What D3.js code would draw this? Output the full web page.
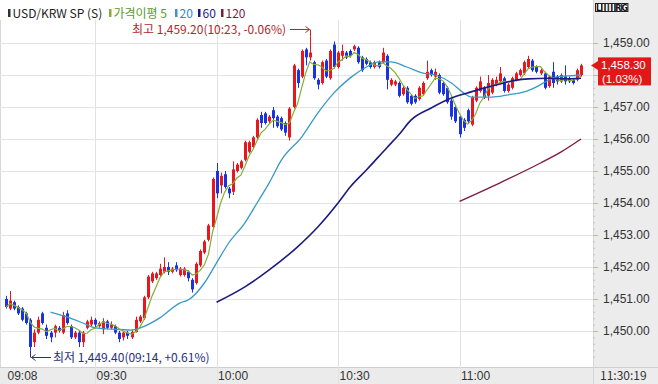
<!DOCTYPE html>
<html><head><meta charset="utf-8">
<script src="https://cdn.jsdelivr.net/npm/d3@7"></script>
<style>
html,body{margin:0;padding:0;background:#fff;}
svg{display:block;font-family:"Noto Sans CJK KR","Noto Sans",sans-serif;}
</style></head><body>
<svg id="c" width="658" height="384"></svg>
<script>
// ---------- DATA ----------
const symbol = "USD/KRW SP (S)";
const startTime = "09:08";           // first 1-minute candle shown
const lastStamp = "11:30:19";
const yTicks = [1450,1451,1452,1453,1454,1455,1456,1457,1458,1459];
const xTickLabels = ["09:08","09:30","10:00","10:30","11:00"];
const gridTimes = ["09:30","10:00","10:30","11:00"];

const open = [1451.0,1450.7,1450.9,1450.75,1450.7,1450.55,1450.35,1449.65,1449.95,1450.55,
1450.1,1449.95,1449.95,1450.1,1449.95,1450.55,1450.15,1449.8,1449.95,1449.65,
1450.1,1450.2,1450.35,1450.15,1450.05,1450.3,1450.1,1450.15,1449.95,1449.8,
1449.95,1449.8,1449.97,1450.3,1450.4,1451.05,1451.55,1451.65,1451.75,1451.85,
1452.0,1451.85,1452.05,1451.75,1451.75,1451.85,1451.6,1451.5,1452.05,1452.45,
1452.85,1453.25,1455.0,1454.55,1454.9,1454.45,1454.35,1455.0,1455.1,1455.35,
1455.6,1455.75,1456.05,1456.75,1456.8,1456.55,1456.9,1456.7,1456.65,1456.5,
1456.05,1457.0,1458.15,1457.95,1458.8,1458.55,1458.4,1457.85,1457.75,1458.45,
1457.9,1458.95,1458.25,1458.6,1458.7,1458.75,1458.8,1458.85,1458.55,1458.5,
1458.4,1458.25,1458.4,1458.4,1458.6,1457.7,1457.7,1457.75,1457.4,1457.6,
1457.35,1457.35,1457.25,1457.4,1457.9,1458.15,1457.95,1458.0,1457.75,1457.6,
1457.2,1457.0,1456.7,1456.6,1456.9,1456.45,1457.2,1457.5,1457.6,1457.35,
1457.45,1457.7,1457.8,1457.9,1457.5,1457.6,1457.85,1458.0,1458.05,1458.25,
1458.45,1458.25,1458.05,1458.05,1457.65,1458.1,1457.95,1457.8,1457.95,1457.9,
1457.85,1457.85,1458.0];
const high = [1451.1,1451.25,1450.95,1450.8,1450.75,1450.6,1450.4,1450.05,1450.45,1450.6,
1450.2,1450.0,1450.2,1450.15,1450.6,1450.65,1450.2,1450.0,1450.0,1450.0,
1450.35,1450.45,1450.4,1450.3,1450.4,1450.35,1450.3,1450.2,1450.0,1450.0,
1450.0,1450.05,1450.45,1450.5,1451.1,1451.75,1451.85,1451.85,1452.1,1452.3,
1452.15,1452.0,1452.15,1452.0,1452.0,1451.9,1451.65,1452.15,1452.55,1452.85,
1453.35,1454.8,1455.25,1454.95,1455.0,1454.5,1455.3,1455.25,1455.35,1455.95,
1455.95,1456.1,1456.65,1456.85,1456.85,1456.75,1457.0,1456.75,1456.7,1456.55,
1457.0,1458.35,1458.2,1458.8,1458.85,1459.2,1458.45,1457.9,1458.45,1458.5,
1458.8,1459.05,1458.75,1458.95,1458.75,1458.8,1458.95,1458.9,1458.6,1458.55,
1458.45,1458.45,1458.45,1458.85,1458.65,1457.9,1457.85,1457.8,1457.65,1457.65,
1457.4,1457.4,1457.65,1457.8,1458.45,1458.2,1458.2,1458.05,1457.8,1457.65,
1457.25,1457.05,1456.75,1456.65,1456.95,1457.35,1457.65,1457.95,1457.65,1458.0,
1457.9,1457.95,1458.25,1457.95,1457.75,1457.95,1458.1,1458.2,1458.45,1458.6,
1458.5,1458.3,1458.2,1458.1,1458.0,1458.4,1458.0,1458.05,1458.3,1457.95,
1457.9,1458.2,1458.35];
const low = [1450.7,1450.65,1450.65,1450.5,1450.3,1450.2,1449.4,1449.5,1449.9,1450.2,
1449.75,1449.65,1449.8,1449.95,1449.9,1450.2,1449.75,1449.75,1449.5,1449.5,
1450.05,1450.15,1450.1,1450.1,1449.9,1450.05,1450.05,1449.9,1449.65,1449.7,
1449.75,1449.75,1449.95,1450.25,1450.35,1451.0,1451.5,1451.6,1451.7,1451.8,
1451.75,1451.8,1451.85,1451.7,1451.7,1451.55,1451.2,1451.45,1452.0,1452.4,
1452.8,1453.2,1454.15,1454.3,1454.45,1454.15,1454.25,1454.95,1455.05,1455.3,
1455.55,1455.7,1456.0,1456.35,1456.45,1456.5,1456.35,1456.35,1456.25,1456.1,
1455.95,1456.95,1457.6,1457.9,1458.3,1458.45,1457.85,1457.55,1457.7,1457.9,
1457.85,1458.2,1458.2,1458.45,1458.5,1458.55,1458.75,1458.35,1458.1,1458.3,
1458.2,1458.2,1458.2,1458.35,1457.55,1457.65,1457.65,1457.3,1457.35,1457.1,
1457.05,1457.1,1457.2,1457.35,1457.85,1457.95,1457.85,1457.4,1457.35,1457.1,
1456.6,1456.5,1456.05,1456.25,1456.5,1456.4,1457.15,1457.45,1457.25,1457.2,
1457.4,1457.65,1457.75,1457.45,1457.45,1457.55,1457.8,1457.95,1458.0,1458.2,
1458.1,1458.05,1458.0,1457.55,1457.6,1457.6,1457.7,1457.75,1457.7,1457.75,
1457.7,1457.8,1457.95];
const close = [1450.75,1450.95,1450.7,1450.55,1450.35,1450.25,1449.5,1449.95,1450.35,1450.25,
1449.85,1449.8,1450.15,1450.0,1450.5,1450.25,1449.8,1449.95,1449.65,1449.95,
1450.3,1450.35,1450.2,1450.25,1450.3,1450.1,1450.2,1449.95,1449.75,1449.95,
1449.85,1449.97,1450.35,1450.45,1451.05,1451.7,1451.8,1451.8,1451.95,1452.0,
1451.85,1451.95,1451.9,1451.95,1451.95,1451.65,1451.3,1452.1,1452.5,1452.8,
1453.3,1454.75,1454.3,1454.85,1454.5,1454.3,1455.05,1455.2,1455.3,1455.9,
1455.9,1456.05,1456.6,1456.5,1456.5,1456.7,1456.65,1456.4,1456.3,1456.2,
1456.95,1458.3,1457.75,1458.75,1458.55,1458.7,1457.9,1457.7,1458.4,1457.95,
1458.75,1458.25,1458.7,1458.75,1458.55,1458.6,1458.9,1458.4,1458.15,1458.35,
1458.25,1458.4,1458.25,1458.7,1457.85,1457.85,1457.8,1457.35,1457.6,1457.15,
1457.1,1457.15,1457.6,1457.75,1458.1,1458.0,1458.1,1457.45,1457.4,1457.15,
1456.7,1456.55,1456.15,1456.35,1456.55,1457.3,1457.6,1457.8,1457.3,1457.75,
1457.85,1457.85,1458.05,1457.5,1457.7,1457.9,1458.05,1458.15,1458.4,1458.5,
1458.15,1458.1,1458.15,1457.6,1457.95,1457.75,1457.8,1458.0,1457.8,1457.8,
1457.75,1458.15,1458.3];

const ma20Times = ["09:19","09:23","09:27","09:30","09:34","09:39","09:41","09:46","09:51","09:53","09:57","10:00","10:03","10:07","10:10","10:13","10:16","10:21","10:25","10:29","10:33","10:37","10:40","10:43","10:47","10:51","10:54","10:58","11:01","11:03","11:08","11:12","11:16","11:19","11:22","11:24","11:27","11:30"];
const ma20Values = [1450.59,1450.44,1450.25,1450.1,1450.06,1450.03,1450.09,1450.41,1450.88,1450.97,1451.5,1452.13,1452.75,1453.38,1454.0,1454.63,1455.34,1456.06,1456.81,1457.44,1457.91,1458.25,1458.41,1458.41,1458.25,1458.06,1458.0,1457.75,1457.44,1457.31,1457.31,1457.38,1457.47,1457.63,1457.84,1457.94,1457.97,1458.0];
const ma60Times = ["10:00","10:07","10:13","10:20","10:25","10:30","10:33","10:37","10:42","10:45","10:48","10:53","10:58","11:02","11:06","11:10","11:14","11:17","11:22","11:26","11:30"];
const ma60Values = [1450.9,1451.38,1451.91,1452.63,1453.25,1454.0,1454.5,1455.03,1455.72,1456.13,1456.59,1456.97,1457.28,1457.44,1457.59,1457.72,1457.84,1457.88,1457.9,1457.88,1457.9];
const ma120Times = ["11:00","11:10","11:20","11:25","11:30"];
const ma120Values = [1454.05,1454.63,1455.25,1455.59,1456.0];

const lastPrice = "1,458.30", lastChange = "(1.03%)";
const highNote = "최고 1,459.20(10:23, -0.06%)";
const lowNote = "최저 1,449.40(09:14, +0.61%)";

// ---------- DRAW ----------
const toMin = s => { const [h,m] = s.split(":").map(Number); return h*60+m; };
const t0 = toMin(startTime);
const candles = open.map((o,i)=>({t:t0+i,o,h:high[i],l:low[i],c:close[i]}));
const ma5 = close.map((c,i)=>({t:t0+i, v:d3.mean(close.slice(Math.max(0,i-4), i+1))}));
const lastClose = close[close.length-1];

const svg = d3.select("#c");
const PR = 593, PB = 367, PT = 20;
const x = d3.scaleLinear().domain([t0, toMin("11:30")]).range([6, 581]);
const y = d3.scaleLinear().domain([1450, 1459]).range([331, 43]);

const UP = "#e8171d", DN = "#1832e4";
const C5 = "#86ad3a", C20 = "#3a98c6", C60 = "#1b1b82", C120 = "#7c1c40";

svg.append("rect").attr("width",658).attr("height",384).attr("fill","#fff");
// right panel & bottom band
svg.append("rect").attr("x",PR).attr("y",0).attr("width",658-PR).attr("height",384).attr("fill","#ececec");
svg.append("rect").attr("x",0).attr("y",PB).attr("width",PR).attr("height",384-PB).attr("fill","#ebebeb");
svg.append("line").attr("x1",0).attr("x2",658).attr("y1",PB+0.5).attr("y2",PB+0.5).attr("stroke","#cfcfcf");
svg.append("line").attr("x1",PR+0.5).attr("x2",PR+0.5).attr("y1",0).attr("y2",384).attr("stroke","#d6d6d6");
svg.append("line").attr("x1",0.5).attr("x2",0.5).attr("y1",PT).attr("y2",PB).attr("stroke","#d8d8d8");

// grid
const grid = svg.append("g");
grid.selectAll(".h").data(yTicks).join("line")
  .attr("x1",0).attr("x2",PR).attr("y1",d=>Math.round(y(d))+0.5).attr("y2",d=>Math.round(y(d))+0.5)
  .attr("stroke","#e4e4e4");
grid.selectAll(".v").data(gridTimes).join("line")
  .attr("x1",d=>Math.round(x(toMin(d)))+0.5).attr("x2",d=>Math.round(x(toMin(d)))+0.5)
  .attr("y1",PT).attr("y2",384).attr("stroke","#e2e2e2");

// right axis (label hidden where the last-price tag sits, as in the original)
const hideNear = v => Math.abs(y(v) - y(lastClose)) < 16;
const yAxis = d3.axisRight(y).tickValues(yTicks).tickSize(5).tickPadding(5)
  .tickFormat(v => hideNear(v) ? "" : d3.format(",.2f")(v));
const ya = svg.append("g").attr("transform",`translate(${PR},0)`).call(yAxis);
ya.select(".domain").remove();
ya.selectAll(".tick line").attr("stroke","#b8b8b8");
ya.selectAll("text").attr("fill","#333").attr("font-size",12);
const minor = d3.range(0,46).map(k=>1449.2+k*0.2).filter(v=>Math.abs(v-Math.round(v))>0.05);
const ym = svg.append("g").attr("transform",`translate(${PR},0)`).call(d3.axisRight(y).tickValues(minor).tickSize(2).tickFormat(""));
ym.select(".domain").remove();
ym.selectAll(".tick line").attr("stroke","#c4c4c4");

// bottom axis
const xAxis = d3.axisBottom(x).tickValues(xTickLabels.map(toMin)).tickSize(0).tickPadding(0)
  .tickFormat((d,i)=>xTickLabels[i]);
const xa = svg.append("g").attr("transform",`translate(0,${PB})`).call(xAxis);
xa.select(".domain").remove();
xa.selectAll("text").attr("text-anchor","start").attr("dx",1).attr("y",4).attr("fill","#333").attr("font-size",12);
svg.append("text").attr("x",600).attr("y",380).attr("font-size",12).attr("fill","#333").text(lastStamp);

// candles
svg.append("clipPath").attr("id","pc").append("rect").attr("x",0).attr("y",PT).attr("width",PR).attr("height",PB-PT);
const plot = svg.append("g").attr("clip-path","url(#pc)");
const cg = plot.selectAll(".cd").data(candles).join("g");
cg.append("line")
  .attr("x1",d=>Math.round(x(d.t))+0.5).attr("x2",d=>Math.round(x(d.t))+0.5)
  .attr("y1",d=>y(d.h)).attr("y2",d=>y(d.l))
  .attr("stroke",d=>d.c>=d.o?UP:DN).attr("stroke-width",1);
cg.append("rect")
  .attr("x",d=>Math.round(x(d.t))-1).attr("width",3)
  .attr("y",d=>y(Math.max(d.o,d.c))).attr("height",d=>Math.max(1,Math.abs(y(d.o)-y(d.c))))
  .attr("fill",d=>d.c>=d.o?UP:DN);

// moving averages
const line = d3.line().x(d=>x(d.t)).y(d=>y(d.v)).curve(d3.curveMonotoneX);
const pts = (ts,vs)=>ts.map((t,i)=>({t:toMin(t),v:vs[i]}));
plot.append("path").datum(pts(ma120Times,ma120Values)).attr("d",line).attr("fill","none").attr("stroke",C120).attr("stroke-width",1.4);
plot.append("path").datum(pts(ma20Times,ma20Values)).attr("d",line).attr("fill","none").attr("stroke",C20).attr("stroke-width",1.3);
plot.append("path").datum(ma5).attr("d",d3.line().x(d=>x(d.t)).y(d=>y(d.v))).attr("fill","none").attr("stroke",C5).attr("stroke-width",1.2);
plot.append("path").datum(pts(ma60Times,ma60Values)).attr("d",line).attr("fill","none").attr("stroke",C60).attr("stroke-width",1.6);

// legend
const leg = svg.append("g").attr("font-size",12);
const items = [
  {x:8, c:"#333", t:symbol, tc:"#222"},
  {x:109, c:C5, t:"가격이평 5", tc:"#5a9a2a"},
  {x:175, c:C20, t:"20", tc:"#2a88d0"},
  {x:198, c:C60, t:"60", tc:"#1b1b90"},
  {x:221, c:C120, t:"120", tc:"#7c1c40"}
];
items.forEach(it=>{
  leg.append("rect").attr("x",it.x).attr("y",9).attr("width",2.5).attr("height",8).attr("fill",it.c);
  leg.append("text").attr("x",it.x+4.5).attr("y",18).attr("fill",it.tc).text(it.t);
});

// high annotation
const hiIdx = high.indexOf(d3.max(high));
const hx = Math.round(x(t0+hiIdx))+0.5;
const HC = "#b0282e";
svg.append("text").attr("x",132).attr("y",33.5).attr("font-size",12).attr("fill",HC).text(highNote);
svg.append("path").attr("d",`M290,29.5H${hx-1}M${hx-5},26.5L${hx-1},29.5L${hx-5},32.5M${hx},29.5V${y(high[hiIdx])}`)
  .attr("fill","none").attr("stroke",HC).attr("stroke-width",1);

// low annotation
const loIdx = low.indexOf(d3.min(low));
const lx = Math.round(x(t0+loIdx))+0.5;
const LC = "#27307c";
svg.append("path").attr("d",`M${lx},${y(low[loIdx])}V357.5M${lx+1},357.5H51M${lx+5},354.5L${lx+1},357.5L${lx+5},360.5`)
  .attr("fill","none").attr("stroke",LC).attr("stroke-width",1);
svg.append("text").attr("x",53).attr("y",362).attr("font-size",12).attr("fill",LC).text(lowNote);

// last price tag
const ly = y(lastClose);
svg.append("path").attr("d",`M591,${ly}L598,${ly-4.5}L598,${ly+4.5}Z`).attr("fill","#e01818");
svg.append("rect").attr("x",598).attr("y",ly-8).attr("width",53).attr("height",28).attr("fill","#e01818");
const tag = svg.append("g").attr("font-family","'Liberation Sans',Arial,sans-serif").attr("font-size",11.5).attr("fill","#fff");
tag.append("text").attr("x",601).attr("y",ly+4).text(lastPrice);
tag.append("text").attr("x",602).attr("y",ly+18).text(lastChange);

// top-right buttons
const btn = svg.append("g").attr("font-size",8).attr("font-weight","bold").attr("font-family","DejaVu Sans");
["L","I","I","R","G"].forEach((ch,i)=>{
  btn.append("rect").attr("x",595.5+i*6.6).attr("y",3.5).attr("width",6).attr("height",8).attr("fill","#fff").attr("stroke","#222");
  btn.append("text").attr("x",598.5+i*6.6).attr("y",10.5).attr("text-anchor","middle").attr("fill","#111").text(ch);
});
</script>
</body></html>
